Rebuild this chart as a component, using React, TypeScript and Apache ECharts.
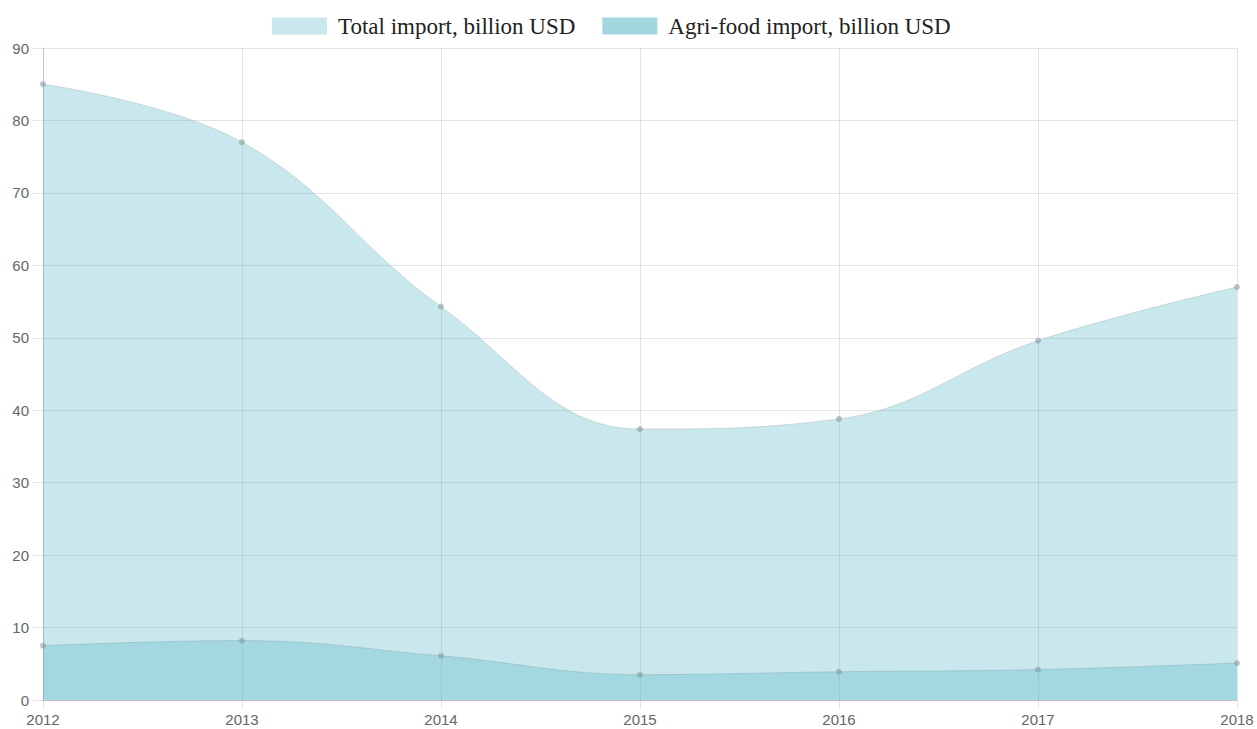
import React, { useEffect, useRef } from "react";
import * as echarts from "echarts";

const years = ["2012", "2013", "2014", "2015", "2016", "2017", "2018"];
const totalImport = [85.0, 77.0, 54.3, 37.4, 38.8, 49.6, 57.0];
const agriFoodImport = [7.5, 8.2, 6.1, 3.5, 3.9, 4.2, 5.1];
const seriesNames = ["Total import, billion USD", "Agri-food import, billion USD"];

export default function App() {
  const ref = useRef<HTMLDivElement>(null);
  useEffect(() => {
    document.body.style.margin = "0";
    const chart = echarts.init(ref.current!, null, { renderer: "svg" });
    const gridColor = "rgba(0,0,0,0.1)";
    const fill = "rgb(75,180,195)";
    const pointColor = "rgba(130,150,155,0.55)";
    chart.setOption({
      animation: false,
      backgroundColor: "#ffffff",
      legend: {
        top: 14,
        left: 272,
        padding: 0,
        itemWidth: 55,
        itemHeight: 17,
        itemGap: 27,
        icon: "rect",
        textStyle: {
          fontFamily: "Liberation Serif",
          fontSize: 23,
          lineHeight: 24,
          color: "#222",
          padding: [0, 0, 0, 6],
        },
        data: [
          { name: seriesNames[0], itemStyle: { color: "#c9e8ed", borderWidth: 0 } },
          { name: seriesNames[1], itemStyle: { color: "#a2d7df", borderWidth: 0 } },
        ],
      },
      grid: { left: 43, right: 20, top: 48, bottom: 29, containLabel: false },
      xAxis: {
        type: "category",
        data: years,
        boundaryGap: false,
        axisLine: { show: true, lineStyle: { color: "#c4c4c4" } },
        axisTick: { show: true, length: 9, lineStyle: { color: gridColor } },
        axisLabel: { color: "#666", fontFamily: "Liberation Sans", fontSize: 15, margin: 12 },
        splitLine: { show: true, lineStyle: { color: gridColor } },
      },
      yAxis: {
        type: "value",
        min: 0,
        max: 90,
        interval: 10,
        axisLine: { show: true, lineStyle: { color: "#c4c4c4" } },
        axisTick: { show: true, length: 10, lineStyle: { color: gridColor } },
        axisLabel: { color: "#666", fontFamily: "Liberation Sans", fontSize: 15, margin: 14 },
        splitLine: { show: true, lineStyle: { color: gridColor } },
      },
      series: [
        {
          name: seriesNames[0],
          type: "line",
          data: totalImport,
          smooth: 0.4,
          symbol: "circle",
          symbolSize: 6,
          itemStyle: { color: pointColor, borderWidth: 0 },
          lineStyle: { color: "rgba(170,185,190,0.5)", width: 1 },
          areaStyle: { color: fill, opacity: 0.3, origin: "start" },
          z: 2,
        },
        {
          name: seriesNames[1],
          type: "line",
          data: agriFoodImport,
          smooth: 0.4,
          symbol: "circle",
          symbolSize: 6,
          itemStyle: { color: pointColor, borderWidth: 0 },
          lineStyle: { color: "rgba(140,180,188,0.5)", width: 1 },
          areaStyle: { color: fill, opacity: 0.3, origin: "start" },
          z: 3,
        },
      ],
    });
    return () => chart.dispose();
  }, []);
  return <div ref={ref} style={{ width: 1257, height: 729 }} />;
}
